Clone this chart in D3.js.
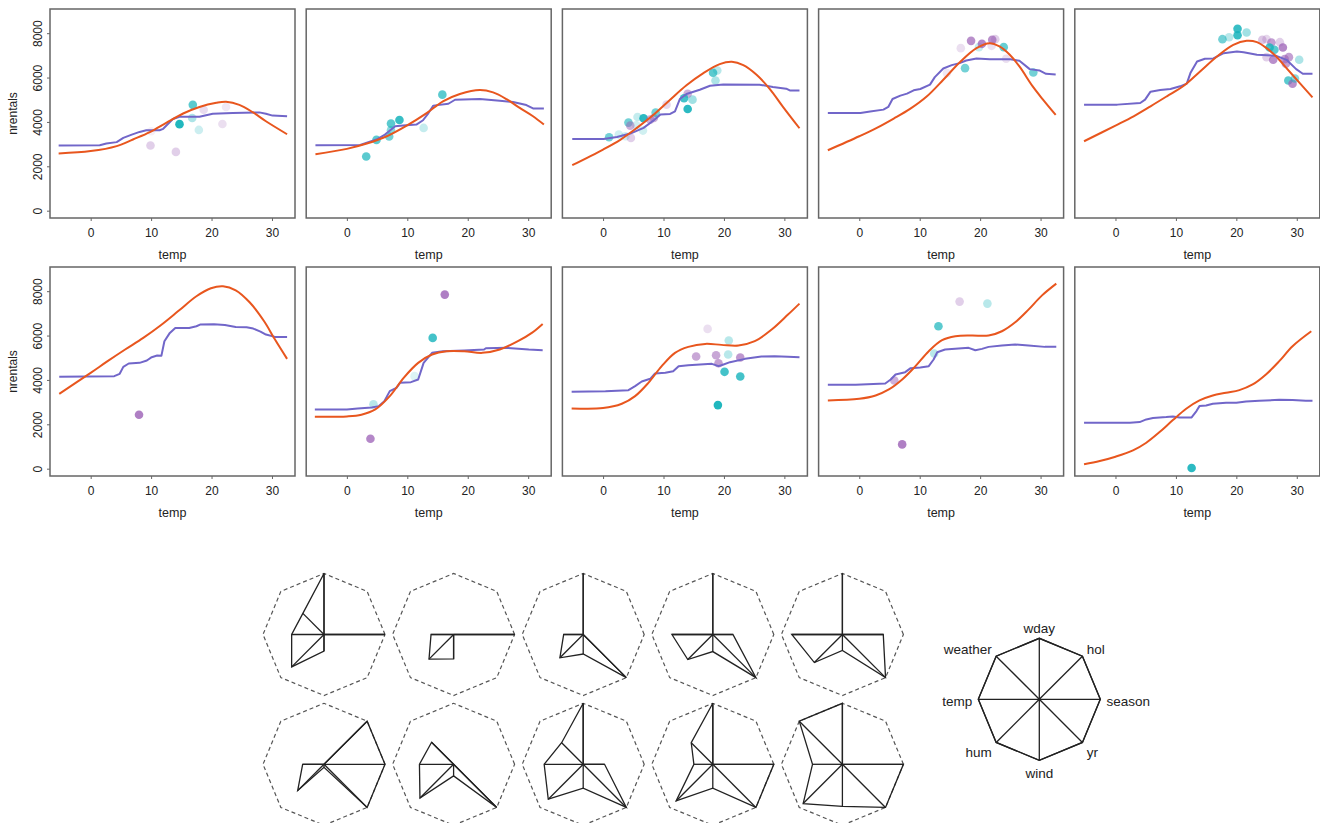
<!DOCTYPE html>
<html>
<head>
<meta charset="utf-8">
<script src="https://cdn.jsdelivr.net/npm/d3@7"></script>
<style>
  html, body { margin: 0; padding: 0; background: #fff; }
  svg { display: block; font-family: "Liberation Sans", Arial, Helvetica, sans-serif; }
</style>
</head>
<body>
<svg id="chart" width="1320" height="823"></svg>
<script>
// ---------------- data ----------------
const tempTicks = [0, 10, 20, 30];
const nrentalsTicks = [0, 2000, 4000, 6000, 8000];
const xLabel = "temp";
const yLabel = "nrentals";

// purple (step-like) curves per panel: [temp, nrentals]
const purpleLines = [
  [[-5.3,2936],[1.5,2950],[2.6,3026],[4.3,3090],[5.4,3280],[6.8,3430],[8.1,3550],[9.2,3625],[11.4,3625],[12,3690],[13.6,4130],[14.7,4230],[18,4230],[20.2,4365],[23.5,4400],[27.9,4430],[29,4370],[30.1,4285],[32.5,4260]],
  [[-5.2,2950],[2.2,2960],[4.9,3205],[6.3,3430],[8,3805],[9.3,3835],[11.5,3880],[12.6,4075],[13.5,4400],[14.3,4735],[16.8,4820],[17.9,5000],[22,5030],[25.3,4960],[27.5,4900],[29.7,4760],[30.8,4610],[32.6,4610]],
  [[-5.1,3235],[0.1,3235],[2.3,3325],[4.5,3475],[6.7,3730],[8.4,4075],[9.5,4330],[11.1,4360],[11.9,4480],[12.7,5030],[13.8,5260],[16,5450],[17.7,5630],[19.9,5690],[25.9,5680],[28.1,5570],[30.3,5500],[30.9,5420],[32.5,5420]],
  [[-5.2,4405],[0.2,4405],[1.8,4465],[4,4555],[4.8,4675],[5.5,5035],[6.8,5185],[7.9,5275],[9,5425],[10.1,5485],[11.7,5680],[12.5,6020],[13.9,6410],[15.3,6560],[16.6,6650],[17.7,6770],[19.4,6860],[21.6,6830],[25,6830],[26.5,6755],[28.2,6380],[29.8,6320],[30.9,6170],[32.5,6140]],
  [[-5.2,4780],[0.3,4780],[4.1,4855],[4.9,5005],[5.8,5365],[7.4,5440],[9.1,5485],[10.7,5605],[11.8,5725],[12.4,6200],[13.5,6725],[14.8,6845],[16.2,6860],[17.9,7100],[20.1,7175],[21.2,7145],[23.4,7025],[26.6,6980],[28.3,6800],[29.9,6380],[31,6170],[32.6,6170]],
  [[-5.2,4140],[3.9,4170],[4.8,4275],[5.4,4590],[6.3,4740],[8.1,4770],[9.3,4875],[10.1,5025],[11,5100],[11.7,5085],[12.2,5745],[13.1,6120],[14,6345],[16.3,6345],[17.5,6420],[18.1,6495],[20.4,6510],[22.2,6480],[24,6390],[25.8,6375],[26.9,6315],[28.1,6180],[29,6045],[30.5,5940],[32.5,5940]],
  [[-5.3,2670],[0,2670],[1.8,2715],[4.1,2760],[5.3,2820],[6.2,3045],[7.1,3495],[8.2,3645],[8.8,3870],[10.6,3900],[11.8,4020],[12.7,4770],[14.1,5220],[15.9,5295],[19.4,5325],[22.7,5370],[23,5430],[26.5,5445],[30.1,5370],[32.4,5340]],
  [[-5.2,3465],[0.4,3495],[4.2,3540],[5.3,3720],[6.4,3930],[7.8,4050],[8.6,4290],[10.3,4320],[11.6,4395],[12.5,4620],[14.1,4665],[18,4725],[19.1,4620],[19.6,4665],[21,4800],[23.5,4950],[26.2,5055],[28.4,5070],[30.6,5040],[32.5,5025]],
  [[-5.2,3780],[-0.6,3780],[4.3,3840],[5.2,4020],[6,4245],[7.6,4350],[8.5,4530],[10.1,4560],[11.5,4620],[12.3,4920],[12.9,5250],[14.2,5370],[18.1,5445],[19.2,5340],[20.3,5400],[21.4,5490],[23.6,5550],[25.8,5595],[28,5550],[30.7,5490],[32.6,5490]],
  [[-5.2,2070],[2.4,2070],[4,2100],[5.1,2220],[6.2,2280],[8.4,2325],[9.5,2355],[10.6,2310],[12.6,2310],[13.4,2595],[13.9,2820],[15,2850],[16.1,2925],[18.3,2970],[20,2970],[21.6,3030],[23.8,3060],[27.1,3105],[29.3,3090],[31.5,3060],[32.6,3060]]
];

// orange (smooth) curves per panel: [temp, nrentals]
const orangeLines = [
  [[-5.3,2580],[0,2685],[4.3,2910],[7,3210],[9.8,3540],[12.5,3960],[15.3,4380],[18,4675],[20.8,4860],[22.4,4905],[24.6,4770],[26.8,4440],[29,4030],[32.5,3445]],
  [[-5.2,2545],[0,2785],[3.3,3025],[6.6,3355],[9.9,3835],[13.2,4400],[15.9,4930],[18.7,5260],[22,5440],[24.2,5330],[26.4,5030],[28.6,4630],[30.8,4255],[32.6,3880]],
  [[-5.1,2050],[0,2755],[2.9,3205],[5.6,3730],[8.4,4330],[11.1,5000],[13.8,5650],[16.6,6200],[19.3,6605],[21.3,6710],[23.2,6560],[25.4,6125],[27.6,5480],[29.8,4670],[32.5,3715]],
  [[-5.2,2725],[0,3355],[2.9,3730],[5.7,4150],[8.4,4585],[11.2,5155],[13.9,5900],[16.6,6680],[19.4,7325],[21.6,7550],[23.2,7400],[24.9,7025],[26.5,6500],[28.7,5600],[30.4,5005],[32.5,4315]],
  [[-5.2,3130],[0,3835],[3,4255],[5.8,4705],[8.5,5155],[11.3,5630],[14,6275],[16.8,6950],[19.5,7475],[21.7,7655],[23.4,7595],[25,7325],[26.6,6950],[28.3,6425],[30.5,5750],[32.6,5110]],
  [[-5.2,3375],[0,4320],[2.8,4845],[5.7,5370],[8.7,5895],[11.6,6465],[14.6,7125],[17.5,7770],[19.9,8130],[21.9,8220],[24,8040],[26.3,7500],[28.7,6645],[30.5,5820],[32.5,4950]],
  [[-5.3,2340],[0,2355],[2.4,2430],[4.7,2670],[7.1,3270],[9.4,4095],[11.8,4770],[14.1,5145],[16.5,5295],[19.4,5295],[22.4,5220],[25.3,5370],[28.3,5745],[30.6,6120],[32.4,6525]],
  [[-5.2,2715],[0,2730],[3.1,2925],[5.3,3270],[7.5,3870],[9.7,4620],[11.9,5220],[14.1,5490],[16.9,5625],[19.6,5580],[22.4,5550],[25.1,5745],[27.9,6270],[30.6,6945],[32.5,7440]],
  [[-5.2,3075],[0,3150],[2.7,3300],[4.9,3570],[7.1,4020],[9.3,4620],[11.5,5295],[13.7,5790],[15.9,5970],[18.6,6000],[21.4,6000],[23.6,6195],[25.8,6600],[28,7170],[30.2,7800],[32.6,8340]],
  [[-5.2,195],[-2.6,345],[0,540],[2.9,825],[5.1,1170],[7.3,1650],[9.5,2190],[11.7,2700],[13.9,3075],[16.1,3300],[18.3,3420],[20.5,3540],[22.7,3795],[24.9,4245],[27.1,4845],[29.3,5520],[32.4,6195]]
];

// observed points per panel: [temp, nrentals, group ('t' teal / 'p' purple), weight]
const pointSets = [
  [[9.9,2935,'p',0.3],[14.1,2650,'p',0.3],[18.7,4550,'p',0.22],[21.8,3910,'p',0.2],[22.4,4670,'p',0.15],[10,3580,'p',0.1],[17.9,3640,'t',0.22],[16.8,4180,'t',0.35],[16.9,4770,'t',0.7],[14.7,3900,'t',0.95]],
  [[12.7,3730,'t',0.25],[3.2,2440,'t',0.7],[4.9,3190,'t',0.7],[7,3340,'t',0.6],[7.3,3625,'t',0.5],[7.3,3925,'t',0.7],[8.7,4090,'t',0.85],[15.8,5230,'t',0.7]],
  [[2.6,3430,'t',0.2],[3.7,3355,'t',0.2],[5.7,4225,'t',0.25],[6.6,3610,'t',0.2],[5.5,3850,'t',0.2],[4.6,3280,'p',0.3],[10.5,4780,'p',0.25],[18.9,6320,'t',0.3],[18.6,5870,'t',0.35],[14.8,5005,'t',0.4],[1,3310,'t',0.6],[4.2,3970,'t',0.6],[4.5,3835,'p',0.5],[6.7,4165,'t',0.9],[7.8,4105,'p',0.5],[8.4,4180,'p',0.5],[8.7,4420,'t',0.6],[14,5270,'p',0.5],[13.4,5065,'t',0.8],[14,4585,'t',0.9],[18.2,6215,'t',0.7]],
  [[16.8,7325,'p',0.2],[14.5,6200,'p',0.15],[19.8,7370,'t',0.25],[22.5,7730,'p',0.3],[21.9,7430,'p',0.2],[24.3,6845,'p',0.2],[18.5,7655,'p',0.7],[20.3,7520,'p',0.75],[22,7700,'p',0.7],[23.9,7370,'t',0.65],[17.5,6425,'t',0.6],[28.8,6230,'t',0.6]],
  [[18.8,7820,'t',0.3],[21.7,8030,'t',0.4],[24.3,7700,'p',0.35],[25,7730,'p',0.25],[27.2,7595,'p',0.3],[25,6920,'p',0.3],[30.4,6800,'t',0.35],[17.7,7730,'t',0.6],[20.2,8195,'t',0.85],[20.2,7910,'t',0.85],[25.8,7580,'p',0.6],[25.5,7355,'t',0.8],[26.3,7250,'t',0.7],[27.7,7355,'p',0.75],[26.1,6800,'p',0.7],[28,6830,'p',0.6],[28.7,6920,'p',0.6],[28.2,6620,'p',0.6],[28.6,5870,'t',0.7],[29.3,5720,'p',0.7],[29.7,5960,'t',0.5]],
  [[8,2430,'p',0.8]],
  [[4.4,2900,'t',0.3],[11.2,4170,'t',0.15],[16.2,7845,'p',0.8],[14.2,5895,'t',0.8],[3.9,1350,'p',0.75]],
  [[17.3,6300,'p',0.2],[20.8,5775,'t',0.3],[20.7,5145,'t',0.3],[15.4,5055,'p',0.55],[18.7,5115,'p',0.55],[19.1,4755,'p',0.6],[22.7,5010,'p',0.65],[20.1,4365,'t',0.8],[22.7,4155,'t',0.8],[19,2865,'t',0.95]],
  [[16.6,7530,'p',0.3],[21.2,7440,'t',0.3],[12.4,5190,'t',0.3],[13.1,6420,'t',0.7],[5.8,3975,'p',0.5],[7.1,1095,'p',0.8]],
  [[12.6,30,'t',0.9]]
];

// star glyphs: variables counter-clockwise from the right
const starVars = ["season", "hol", "wday", "weather", "temp", "hum", "wind", "yr"];
const starValues = [
  [1, 0, 1, 0.49, 0.53, 0.75, 0.27, 0],
  [1, 0, 0, 0, 0.37, 0.57, 0.40, 0],
  [0, 0, 1, 0, 0.32, 0.54, 0.32, 1],
  [0.33, 0, 1, 0, 0.67, 0.58, 0.28, 1],
  [0.67, 0, 1, 0, 0.83, 0.65, 0.26, 1],
  [1, 1, 0, 0, 0.35, 0.61, 0.05, 1],
  [0, 0, 0, 0.51, 0.56, 0.78, 0.19, 1],
  [0.35, 0, 1, 0.5, 0.64, 0.81, 0.39, 1],
  [1, 0, 1, 0.5, 0.31, 0.85, 0.39, 1],
  [1, 0, 1, 1, 0.49, 0.91, 0.69, 1]
];
const legendValues = [1, 1, 1, 1, 1, 1, 1, 1];

// ---------------- layout / style ----------------
const W = 1320, H = 823;
const panelLeft0 = 50, panelStep = 256.2, panelW = 245;
const rowTop = [9, 267], panelH = 209;
const colors = { purpleLine: "#7166c9", orangeLine: "#e8561e", t: "#15b3bb", p: "#9b5fb5", box: "#666666" };

const svg = d3.select("#chart");
svg.append("rect").attr("width", W).attr("height", H).attr("fill", "#fff");

const xBase = d3.scaleLinear().domain([-6.73, 33.81]).range([0, panelW]);
const yBase = d3.scaleLinear().domain([-330, 9090]).range([panelH, 0]);

const lineStep = d3.line().x(d => xBase(d[0])).y(d => yBase(d[1])).curve(d3.curveLinear);
const lineSmooth = d3.line().x(d => xBase(d[0])).y(d => yBase(d[1])).curve(d3.curveCatmullRom.alpha(0.5));

for (let i = 0; i < 10; i++) {
  const col = i % 5, row = Math.floor(i / 5);
  const g = svg.append("g")
    .attr("transform", `translate(${panelLeft0 + col * panelStep},${rowTop[row]})`);

  // points (beneath lines)
  g.append("g").selectAll("circle")
    .data(pointSets[i]).join("circle")
    .attr("cx", d => xBase(d[0]))
    .attr("cy", d => yBase(d[1]))
    .attr("r", 4.3)
    .attr("fill", d => colors[d[2]])
    .attr("fill-opacity", d => d[3]);

  g.append("path").attr("d", lineStep(purpleLines[i]))
    .attr("fill", "none").attr("stroke", colors.purpleLine).attr("stroke-width", 2)
    .attr("stroke-linejoin", "round");
  g.append("path").attr("d", lineSmooth(orangeLines[i]))
    .attr("fill", "none").attr("stroke", colors.orangeLine).attr("stroke-width", 2);

  // x axis
  const xa = g.append("g").attr("transform", `translate(0,${panelH})`)
    .call(d3.axisBottom(xBase).tickValues(tempTicks).tickFormat(d3.format("d"))
      .tickSize(3).tickSizeOuter(0).tickPadding(7));
  xa.select(".domain").remove();
  xa.selectAll("line").attr("stroke", colors.box);
  xa.selectAll("text").attr("font-size", 12).attr("fill", "#222").attr("font-family", null);

  g.append("text").attr("x", panelW / 2).attr("y", panelH + 41)
    .attr("text-anchor", "middle").attr("font-size", 12.5).attr("fill", "#222").text(xLabel);

  if (col === 0) {
    const ya = g.append("g")
      .call(d3.axisLeft(yBase).tickValues(nrentalsTicks).tickFormat(d3.format("d"))
        .tickSize(3).tickSizeOuter(0));
    ya.select(".domain").remove();
    ya.selectAll("line").attr("stroke", colors.box);
    ya.selectAll("text")
      .attr("x", null).attr("dy", null)
      .attr("transform", "translate(-8.5,0) rotate(-90)")
      .attr("text-anchor", "middle")
      .attr("font-size", 12).attr("fill", "#222").attr("font-family", null);
    g.append("text")
      .attr("transform", `translate(-33.5,${panelH / 2}) rotate(-90)`)
      .attr("text-anchor", "middle").attr("font-size", 12).attr("fill", "#222").text(yLabel);
  }

  g.append("rect").attr("x", 0).attr("y", 0).attr("width", panelW).attr("height", panelH)
    .attr("fill", "none").attr("stroke", colors.box).attr("stroke-width", 1.5);
}

// ---------------- star glyphs ----------------
const R = 61;
const rScale = d3.scaleLinear().domain([0, 1]).range([0, R]);
const angle = d3.scaleLinear().domain([0, starVars.length]).range([0, 2 * Math.PI]);
const vertex = (v, k) => [rScale(v) * Math.cos(angle(k)), -rScale(v) * Math.sin(angle(k))];

function drawStar(g, values, outlineDashed) {
  const outline = starVars.map((_, k) => vertex(1, k));
  g.append("polygon").attr("points", outline.map(p => p.join(",")).join(" "))
    .attr("fill", "none")
    .attr("stroke", outlineDashed ? "#555" : "#222")
    .attr("stroke-width", outlineDashed ? 1.2 : 1.3)
    .attr("stroke-dasharray", outlineDashed ? "4,3" : null);
  const pts = values.map((v, k) => vertex(v, k));
  g.selectAll("line.spoke").data(pts).join("line").attr("class", "spoke")
    .attr("x1", 0).attr("y1", 0).attr("x2", d => d[0]).attr("y2", d => d[1])
    .attr("stroke", "#222").attr("stroke-width", 1.3);
  g.append("polygon").attr("points", pts.map(p => p.join(",")).join(" "))
    .attr("fill", "none").attr("stroke", "#222").attr("stroke-width", 1.3)
    .attr("stroke-linejoin", "miter");
}

const starX0 = 324, starDX = 129.6, starY0 = 634.5, starDY = 129.8;
starValues.forEach((vals, i) => {
  const col = i % 5, row = Math.floor(i / 5);
  const g = svg.append("g").attr("transform", `translate(${starX0 + col * starDX},${starY0 + row * starDY})`);
  drawStar(g, vals, true);
});

// legend star
const lg = svg.append("g").attr("transform", "translate(1039.3,699.3)");
drawStar(lg, legendValues, false);
lg.append("circle").attr("r", 1.6).attr("fill", "#222");
starVars.forEach((name, k) => {
  const a = angle(k);
  const c = Math.cos(a), s = Math.sin(a);
  const rr = R * 1.1;
  const anchor = c > 0.1 ? "start" : (c < -0.1 ? "end" : "middle");
  lg.append("text")
    .attr("x", rr * c)
    .attr("y", -rr * s + 1.5 - 5.5 * s)
    .attr("dy", "0.35em")
    .attr("text-anchor", anchor)
    .attr("font-size", 13.5).attr("fill", "#222")
    .text(name);
});
</script>
</body>
</html>
